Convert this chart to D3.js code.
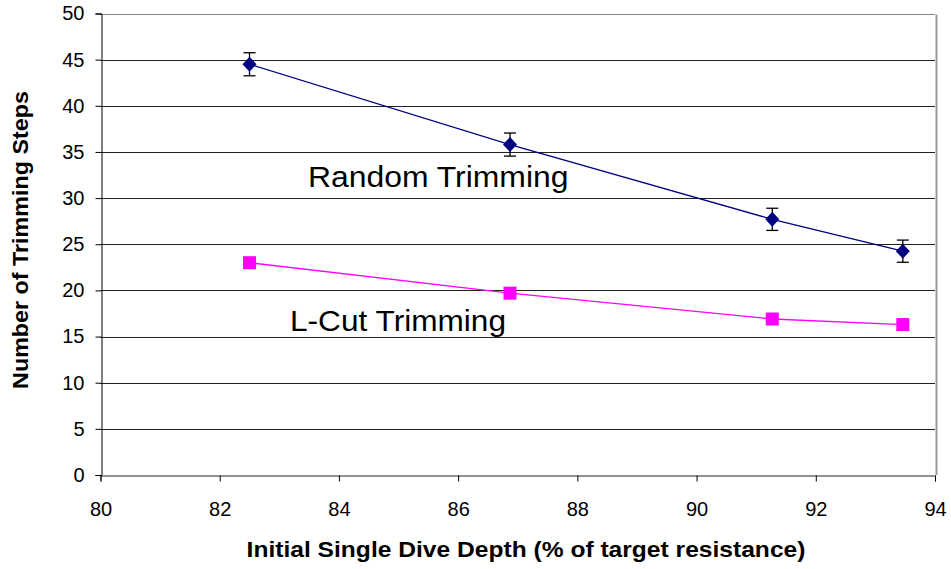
<!DOCTYPE html>
<html><head><meta charset="utf-8">
<script src="https://cdn.jsdelivr.net/npm/d3@7"></script>
<style>
html,body{margin:0;padding:0;background:#fff;}
text{font-family:"Liberation Sans",Arial,sans-serif;}
</style></head>
<body>
<svg id="chart" width="951" height="569"></svg>
<script>
const xValues = [82.5, 86.87, 91.27, 93.46];
const randomValues = [44.5, 35.8, 27.7, 24.25];
const randomErrors = [1.25, 1.25, 1.2, 1.2];
const lcutValues = [23.0, 19.7, 16.9, 16.3];
const xTicks = [80, 82, 84, 86, 88, 90, 92, 94];
const yTicks = [0, 5, 10, 15, 20, 25, 30, 35, 40, 45, 50];
const xTitle = "Initial Single Dive Depth (% of target resistance)";
const yTitle = "Number of Trimming Steps";
const seriesLabels = ["Random Trimming", "L-Cut Trimming"];

const svg = d3.select("#chart");
const L = 100.5, R = 935, T = 13.5, B = 475;
const x = d3.scaleLinear().domain([80, 94]).range([L, R]);
const y = d3.scaleLinear().domain([0, 50]).range([B, T]);

// gridlines
svg.append("g").selectAll("line").data(yTicks.filter(d => d > 0)).join("line")
  .attr("x1", L).attr("x2", R).attr("y1", d => Math.round(y(d)) + 0.5).attr("y2", d => Math.round(y(d)) + 0.5)
  .attr("stroke", d => d === 50 ? "#888" : "#222").attr("stroke-width", 1);
// right border
svg.append("line").attr("x1", Math.round(R) + 1.5).attr("x2", Math.round(R) + 1.5)
  .attr("y1", Math.round(T) + 0.5).attr("y2", B).attr("stroke", "#999").attr("stroke-width", 2);

// axes
const yAxis = d3.axisLeft(y).tickValues(yTicks).tickSize(6).tickPadding(11);
const gy = svg.append("g").attr("transform", `translate(${Math.round(L) + 0.5},0)`).call(yAxis);
gy.select(".domain").attr("stroke", "#000");
gy.selectAll(".tick line").attr("stroke", "#000");
gy.selectAll(".tick text").attr("font-size", 20).attr("fill", "#000");

const xAxis = d3.axisBottom(x).tickValues(xTicks).tickSize(6).tickPadding(20);
const gx = svg.append("g").attr("transform", `translate(0,${B + 0.5})`).call(xAxis);
gx.select(".domain").attr("stroke", "#222");
gx.selectAll(".tick line").attr("stroke", "#000");
gx.selectAll(".tick text").attr("font-size", 20).attr("fill", "#000");

// titles
svg.append("text").attr("transform", "translate(526,557) scale(1.118,1)").attr("text-anchor", "middle")
  .attr("font-size", 22).attr("font-weight", "bold").text(xTitle);
svg.append("text").attr("transform", "translate(28,240) rotate(-90) scale(1.06,1)").attr("text-anchor", "middle")
  .attr("font-size", 22).attr("font-weight", "bold").text(yTitle);

// lines
const line = d3.line().x(d => x(d[0])).y(d => y(d[1]));
svg.append("path").datum(xValues.map((v, i) => [v, lcutValues[i]]))
  .attr("d", line).attr("fill", "none").attr("stroke", "#FF00FF").attr("stroke-width", 1.3);
svg.append("path").datum(xValues.map((v, i) => [v, randomValues[i]]))
  .attr("d", line).attr("fill", "none").attr("stroke", "#000080").attr("stroke-width", 1.3);

// error bars
const eb = svg.append("g").attr("stroke", "#000").attr("stroke-width", 1.3);
xValues.forEach((v, i) => {
  const cx = x(v), y1 = y(randomValues[i] + randomErrors[i]), y2 = y(randomValues[i] - randomErrors[i]);
  eb.append("line").attr("x1", cx).attr("x2", cx).attr("y1", y1).attr("y2", y2);
  eb.append("line").attr("x1", cx - 6).attr("x2", cx + 6).attr("y1", y1).attr("y2", y1);
  eb.append("line").attr("x1", cx - 6).attr("x2", cx + 6).attr("y1", y2).attr("y2", y2);
});

// markers
svg.append("g").selectAll("rect").data(xValues.map((v, i) => [v, lcutValues[i]])).join("rect")
  .attr("x", d => x(d[0]) - 6.5).attr("y", d => y(d[1]) - 6.5).attr("width", 13).attr("height", 13)
  .attr("fill", "#FF00FF");
svg.append("g").selectAll("path").data(xValues.map((v, i) => [v, randomValues[i]])).join("path")
  .attr("transform", d => `translate(${x(d[0])},${y(d[1])})`)
  .attr("d", "M0,-7.5L7,0L0,7.5L-7,0Z").attr("fill", "#000080");

// series labels
svg.append("text").attr("transform", "translate(308,187) scale(1.1,1)").attr("font-size", 29).text(seriesLabels[0]);
svg.append("text").attr("transform", "translate(290,331) scale(1.09,1)").attr("font-size", 29).text(seriesLabels[1]);
</script>
</body></html>
